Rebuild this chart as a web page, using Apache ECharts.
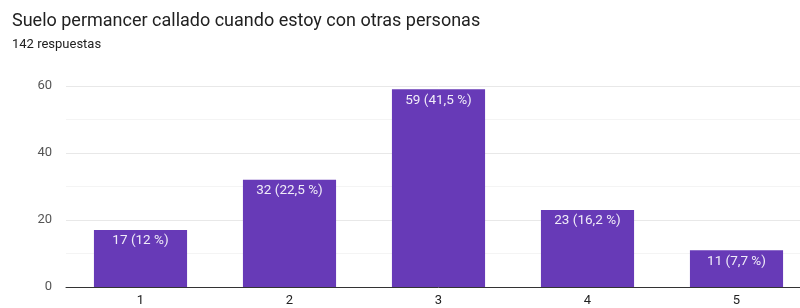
<!DOCTYPE html>
<html>
<head>
<meta charset="utf-8">
<script src="https://cdn.jsdelivr.net/npm/echarts@6/dist/echarts.min.js"></script>
<style>
html, body { margin: 0; padding: 0; background: #fff; overflow: hidden; width: 800px; height: 308px; }
#chart { width: 811px; height: 308px; }
</style>
</head>
<body>
<div id="chart"></div>
<script>
var categories = ['1', '2', '3', '4', '5'];
var counts = [17, 32, 59, 23, 11];
var labels = ['17 (12 %)', '32 (22,5 %)', '59 (41,5 %)', '23 (16,2 %)', '11 (7,7 %)'];
var yTicks = [0, 20, 40, 60];

// chart area runs past the right edge of the window, like the reference
var chart = echarts.init(document.getElementById('chart'));
var option = {
	animation: false,
	textStyle: { fontFamily: 'Roboto' },
	title: {
		text: 'Suelo permancer callado cuando estoy con otras personas',
		subtext: '142 respuestas',
		left: 7,
		top: 7,
		itemGap: 8,
		textStyle: { fontSize: 18, fontWeight: 'normal', color: '#212121' },
		subtextStyle: { fontSize: 13, color: '#212121' }
	},
	grid: {
		left: 66,
		right: 0,
		top: 86,
		bottom: 21
	},
	xAxis: {
		type: 'category',
		data: categories,
		axisTick: { show: false },
		axisLine: { lineStyle: { color: '#333', width: 1 } },
		axisLabel: { color: '#222', fontSize: 13, margin: 7 }
	},
	yAxis: {
		type: 'value',
		min: yTicks[0],
		max: yTicks[yTicks.length - 1],
		interval: 20,
		axisLabel: { color: '#555', fontSize: 13, margin: 14 },
		splitLine: { lineStyle: { color: '#e8e8e8' } },
		minorTick: { show: false, splitNumber: 2 },
		minorSplitLine: { show: true, lineStyle: { color: '#f4f4f4' } }
	},
	series: [{
		type: 'bar',
		data: counts,
		barWidth: '62.5%',
		itemStyle: { color: '#673ab7' },
		label: {
			show: true,
			position: 'insideTop',
			distance: 4,
			color: '#f0ecf8',
			fontSize: 13.5,
			formatter: function(p) {
				return labels[p.dataIndex];
			}
		}
	}]
};
chart.setOption(option);
</script>
</body>
</html>
